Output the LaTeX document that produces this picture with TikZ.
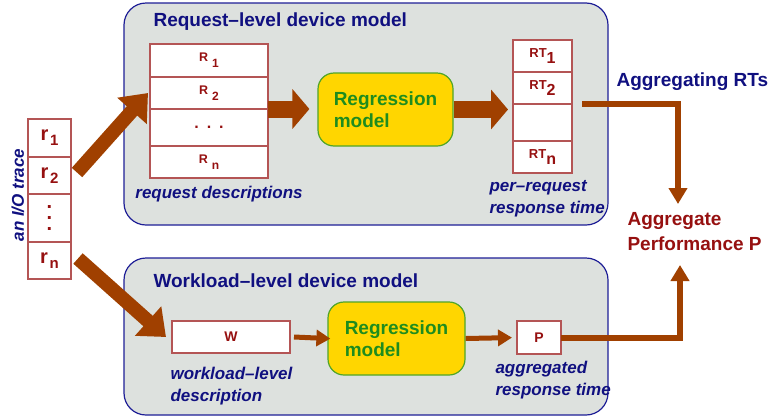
\documentclass[tikz,border=0pt]{standalone}
\usepackage{fontspec}
\setmainfont{Liberation Sans}
\usetikzlibrary{arrows.meta,positioning}

\definecolor{panelgray}{RGB}{221,225,222}
\definecolor{panelblue}{RGB}{30,30,150}
\definecolor{titleblue}{RGB}{16,16,128}
\definecolor{celltext}{RGB}{150,16,16}
\definecolor{cellline}{RGB}{180,85,85}
\definecolor{arrowbrown}{RGB}{160,64,0}
\definecolor{reggold}{RGB}{255,214,0}
\definecolor{regline}{RGB}{80,165,40}
\definecolor{regtext}{RGB}{30,140,30}

\newcommand{\fsize}[1]{\fontsize{#1}{#1}\selectfont}
\newcommand{\rsub}[1]{{\fsize{20}r}\,\raisebox{-5pt}{\fsize{15}#1}}
\newcommand{\Rsub}[1]{{\fsize{12.5}R}\hspace{4pt}\raisebox{-6pt}{\fsize{12}#1}}
\newcommand{\RTsub}[1]{{\fsize{13}RT}\raisebox{-6pt}{\fsize{16}#1}}
\newcommand{\tracedots}{.\llap{\raisebox{11pt}{.}}\llap{\raisebox{22pt}{.}}}

\begin{document}
\begin{tikzpicture}[
    x=1pt, y=-1pt,
    font=\bfseries,
    panel/.style={rectangle, draw=panelblue, line width=1.2pt, fill=panelgray, rounded corners=22pt, minimum width=484pt, inner sep=0pt, outer sep=0pt},
    title/.style={anchor=west, text=titleblue, font=\bfseries\fsize{19}},
    cell/.style={rectangle, draw=cellline, line width=1.3pt, fill=white, text=celltext, inner sep=0pt, outer sep=0pt},
    regbox/.style={rectangle, draw=regline, line width=1.2pt, fill=reggold, rounded corners=16pt, text=regtext, align=left, font=\bfseries\fontsize{19}{22}\selectfont, inner sep=0pt},
    note/.style={text=titleblue, align=left, font=\bfseries\itshape\fontsize{17}{22}\selectfont},
    bigarrow/.style={draw=arrowbrown, line width=14pt, -{Triangle[width=38pt,length=24pt]}},
    blockarrow/.style={draw=arrowbrown, line width=17pt, -{Triangle[width=39pt,length=17pt]}},
    link/.style={draw=arrowbrown, line width=6pt, -{Triangle[width=18pt,length=16pt]}},
    smallarrow/.style={draw=arrowbrown, line width=5pt, -{Triangle[width=16pt,length=14pt]}}
]
    \useasboundingbox (0,0) rectangle (768,418);

    % Panels
    \node (reqpanel) [panel, minimum height=222pt] at (366,114) {};
    \node (wlpanel) [panel, minimum height=157pt] at (366,336.5) {};
    \node (reqtitle) [title] at (150,22) {Request--level device model};
    \node (wltitle) [title] at (150,281) {Workload--level device model};

    % I/O trace
    \node (r1) [cell, minimum width=43pt, minimum height=38pt] at (49.5,138) {\rsub{1}};
    \node (r2) [cell, minimum width=43pt, minimum height=37pt, below=0pt of r1] {\rsub{2}};
    \node (rdots) [cell, minimum width=43pt, minimum height=48pt, below=0pt of r2, font=\bfseries\fsize{20}] {\tracedots};
    \node (rn) [cell, minimum width=43pt, minimum height=37pt, below=0pt of rdots] {\rsub{n}};
    \node (trace) [note, rotate=90] at (18,195) {an I/O trace};

    % Request descriptions
    \node (R1) [cell, minimum width=118pt, minimum height=33pt] at (209,60.5) {\Rsub{1}};
    \node (R2) [cell, minimum width=118pt, minimum height=32pt, below=0pt of R1] {\Rsub{2}};
    \node (Rdots) [cell, minimum width=118pt, minimum height=37pt, below=0pt of R2, font=\bfseries\fsize{16}] {.\hspace{8pt}.\hspace{8pt}.};
    \node (Rn) [cell, minimum width=118pt, minimum height=32pt, below=0pt of Rdots] {\Rsub{n}};
    \node (reqdesc) [note] at (219,194) {request descriptions};

    % Regression models
    \node (reg1) [regbox, minimum width=135pt, minimum height=73pt] at (385.5,109.5) {Regression\\model};
    \node (reg2) [regbox, minimum width=137pt, minimum height=73pt] at (396.5,338.5) {Regression\\model};

    % Response times
    \node (RT1) [cell, minimum width=59pt, minimum height=32pt] at (542.5,56) {\RTsub{1}};
    \node (RT2) [cell, minimum width=59pt, minimum height=32pt, below=0pt of RT1] {\RTsub{2}};
    \node (RTe) [cell, minimum width=59pt, minimum height=37pt, below=0pt of RT2] {};
    \node (RTn) [cell, minimum width=59pt, minimum height=32pt, below=0pt of RTe] {\RTsub{n}};
    \node (perreq) [note, anchor=west] at (486,199) {per--request\\response time};

    % Workload level
    \node (wbox) [cell, minimum width=118pt, minimum height=32pt, font=\bfseries\fsize{14}] at (231,337) {W};
    \node (wldesc) [note, anchor=west] at (167,386) {workload--level\\description};
    \node (pbox) [cell, minimum width=44pt, minimum height=33pt, font=\bfseries\fsize{14}] at (539,337.5) {P};
    \node (aggresp) [note, anchor=west] at (492,380) {aggregated\\response time};

    % Aggregation
    \node (aggrts) [title] at (613,82) {Aggregating RTs};
    \node (aggperf) [anchor=west, align=left, text=celltext, font=\bfseries\fontsize{19}{25}\selectfont] at (624,232) {Aggregate\\Performance P};
    \coordinate (aggtop) at (678,204);
    \coordinate (aggbot) at (680,265);

    % Arrows
    \draw [bigarrow] ([xshift=6pt,yshift=3pt]r2.east) -- ([xshift=-2pt]R2.west);
    \draw [bigarrow] ([xshift=7pt,yshift=2pt]rn.east) -- ([xshift=-6pt]wbox.west);
    \draw [blockarrow, shorten >=8pt] (R2.south east) -- (R2.south east -| reg1.west);
    \draw [blockarrow, shorten >=5pt] (reg1.east) -- (reg1.east -| RTe.west);
    \draw [link] ([xshift=10pt]RT2.south east) -| (aggtop);
    \draw [smallarrow, shorten >=-3pt] ([xshift=4pt]wbox.east) -- (reg2.west);
    \draw [smallarrow, shorten >=5pt] (reg2.east) -- (pbox.west);
    \draw [link] (pbox.east) -| (aggbot);

\end{tikzpicture}
\end{document}
